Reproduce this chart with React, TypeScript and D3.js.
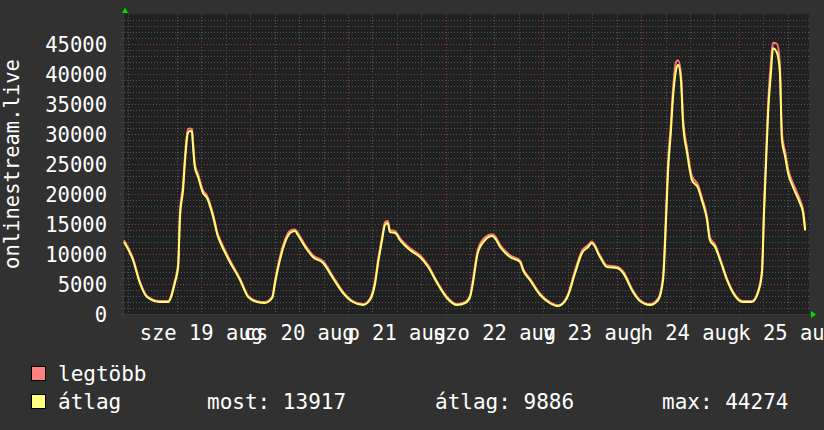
import * as d3 from "d3";

// hours since 18 aug 17:00
const hours = [
  0, 2.2, 3.9, 5.65, 8.8, 10.8, 12.5, 13.3, 13.75, 14.5, 15.0, 15.7, 16.2, 16.7, 16.9, 17.4, 18.2, 19.4, 20.4, 21.9,
  23.1, 23.6, 26.0, 28.5, 30.5, 32.7, 34.6, 36.4, 37.1, 38.3, 39.5, 40.8, 42.0, 42.7, 44.5, 46.4, 48.9, 51.3, 53.8, 56.2,
  58.7, 60.4, 61.7, 62.4, 63.4, 64.1, 64.8, 65.3, 66.6, 67.8, 70.2, 72.7, 74.7, 76.9, 79.3, 81.8, 83.8, 85.0, 85.7, 86.9,
  88.7, 90.4, 91.1, 92.4, 94.8, 97.3, 98.0, 99.7, 102.2, 104.6, 106.6, 108.8, 110.8, 112.5, 114.0, 114.9, 116.9, 118.6, 121.1, 122.6,
  125.0, 126.7, 129.2, 131.2, 132.4, 133.1, 133.6, 134.3, 134.8, 135.6, 136.1, 136.8, 137.3, 138.3, 139.5, 141.0, 141.9, 143.2, 143.9, 145.2,
  146.4, 148.1, 149.6, 152.0, 154.2, 155.7, 156.7, 157.2, 157.7, 158.2, 158.9, 159.4, 160.4, 161.1, 161.6, 162.4, 163.1, 164.3, 166.0, 166.8,
  167.3,
];

const atlag = [
  12000, 9000, 5170, 2830, 2000, 2000, 5170, 7830, 16170, 20670, 25670, 30170, 30500, 30330, 28500, 24500, 22830, 20170, 19330, 16170,
  12830, 12000, 8670, 5670, 2830, 2000, 1830, 2670, 5170, 9000, 11830, 13500, 13830, 13170, 11170, 9500, 8500, 6000, 3500, 2000,
  1500, 2330, 5170, 8500, 12330, 14830, 15170, 13670, 13500, 12330, 10670, 9500, 7830, 5170, 2670, 1500, 1830, 2830, 5170, 10170,
  12330, 13000, 12670, 11170, 9500, 8670, 7330, 5670, 3170, 1830, 1330, 2670, 6830, 10170, 11170, 11830, 9500, 7830, 7670, 6830,
  3670, 2170, 1500, 2330, 5670, 15170, 23500, 30170, 35670, 40670, 41500, 39000, 31830, 26830, 22330, 21000, 19000, 15670, 12330, 11170,
  9000, 5670, 3500, 2000, 2000, 3500, 6830, 16830, 25170, 33500, 40170, 44274, 43500, 40170, 29000, 26170, 23500, 21170, 18500, 16830,
  13917,
];

const legtobb = [
  12300, 9300, 5400, 3000, 2150, 2150, 5600, 8400, 17000, 21500, 26500, 30800, 30900, 30800, 29200, 25000, 23300, 20600, 19700, 16600,
  13200, 12400, 9000, 5900, 3000, 2150, 2000, 2900, 5600, 9500, 12300, 13900, 14100, 13500, 11500, 9800, 8800, 6300, 3700, 2150,
  1650, 2600, 5700, 9000, 12900, 15300, 15500, 14000, 13800, 12600, 11000, 9800, 8100, 5400, 2900, 1650, 2000, 3100, 5700, 10700,
  12800, 13300, 13000, 11500, 9800, 8900, 7600, 5900, 3400, 2000, 1450, 2900, 7300, 10600, 11500, 12100, 9800, 8100, 7900, 7100,
  3900, 2350, 1650, 2600, 6300, 16500, 25000, 31500, 37000, 42000, 42300, 40000, 32800, 27600, 23000, 21500, 19500, 16200, 12800, 11500,
  9300, 5900, 3700, 2150, 2150, 3800, 7400, 18000, 26500, 35000, 42000, 45200, 45000, 41500, 30000, 27000, 24200, 21800, 19100, 17300,
  14200,
];

const dayLabels = ["sze 19 aug", "cs 20 aug", "p 21 aug", "szo 22 aug", "v 23 aug", "h 24 aug", "k 25 aug"];
const yTicks = [0, 5000, 10000, 15000, 20000, 25000, 30000, 35000, 40000, 45000];

const start = new Date(2015, 7, 18, 17);
const end = new Date(2015, 7, 25, 17);
const W = 824;
const H = 430;
const font = "'DejaVu Sans Mono', monospace";

const x = d3.scaleTime().domain([start, end]).range([124, 808]);
const y = d3.scaleLinear().domain([0, 50000]).range([314, 14]);
const toDate = (h: number) => new Date(start.getTime() + h * 3600000);

export default function App() {
  const minorX = d3.timeHour.every(6)!.range(start, end).filter((d) => d.getHours() !== 0);
  const majorX = d3.timeDay.range(start, end);
  const minorY = d3.range(1000, 50001, 1000).filter((v) => v % 5000 !== 0);
  const noon = majorX.map((d) => new Date(d.getTime() + 12 * 3600000));

  const line = (vals: number[]) =>
    d3.line<number>().x((_, i) => x(toDate(hours[i]))).y((v) => y(v)).curve(d3.curveMonotoneX)(vals) ?? "";

  const px = (v: number) => Math.round(v) + 0.5;

  return (
    <svg width={W} height={H} style={{ position: "absolute", left: 0, top: 0, display: "block" }}>
      <rect width={W} height={H} fill="#313131" />
      <rect x={123} y={14} width={686} height={301} fill="#212121" />
      <g shapeRendering="crispEdges">
        {minorY.map((v) => (
          <line key={"my" + v} x1={121} x2={811} y1={px(y(v))} y2={px(y(v))} stroke="#555" strokeDasharray="1,2" />
        ))}
        {minorX.map((d) => (
          <line key={"mx" + d.getTime()} x1={px(x(d))} x2={px(x(d))} y1={14} y2={317} stroke="#555" strokeDasharray="1,2" />
        ))}
        {yTicks.slice(1).map((v) => (
          <line key={"My" + v} x1={120} x2={812} y1={px(y(v))} y2={px(y(v))} stroke="#863c3c" strokeDasharray="1,2" />
        ))}
        {majorX.slice(1).map((d) => (
          <line key={"Mx" + d.getTime()} x1={px(x(d))} x2={px(x(d))} y1={14} y2={318} stroke="#863c3c" strokeDasharray="1,2" />
        ))}
        <line x1={120} x2={812} y1={314.5} y2={314.5} stroke="#3a3a3a" />
        <line x1={123.5} x2={123.5} y1={12} y2={318} stroke="#3a3a3a" />
      </g>
      <path d={line(legtobb)} fill="none" stroke="#ff7878" strokeWidth={2} />
      <path d={line(atlag)} fill="none" stroke="#ffff70" strokeWidth={2} />
      <path d="M125,7.5 L122,13 L128,13 Z" fill="#00dd00" />
      <path d="M816,314.5 L811,311 L811,318 Z" fill="#00dd00" />
      {yTicks.map((v) => (
        <text key={"yl" + v} x={107} y={y(v) + 8} textAnchor="end" fill="#ffffff" fontFamily={font} fontSize={20.5}>
          {v}
        </text>
      ))}
      {noon.map((d, i) => (
        <text key={"xl" + i} x={x(d)} y={340} textAnchor="middle" fill="#ffffff" fontFamily={font} fontSize={20.5}>
          {dayLabels[i]}
        </text>
      ))}
      <text transform="translate(19,164) rotate(-90)" textAnchor="middle" fill="#ffffff" fontFamily={font} fontSize={20.5}>
        onlinestream.live
      </text>
      <rect x={31.5} y={366.5} width={14} height={14} fill="#ff8080" stroke="#000" />
      <rect x={31.5} y={394.5} width={14} height={14} fill="#ffff80" stroke="#000" />
      {[
        { t: "legtöbb", lx: 58, ly: 381 },
        { t: "átlag", lx: 58, ly: 409 },
        { t: "most: 13917", lx: 207, ly: 409 },
        { t: "átlag: 9886", lx: 435, ly: 409 },
        { t: "max: 44274", lx: 662, ly: 409 },
      ].map((l) => (
        <text key={l.t} x={l.lx} y={l.ly} fill="#ffffff" fontFamily={font} fontSize={21}>
          {l.t}
        </text>
      ))}
    </svg>
  );
}
